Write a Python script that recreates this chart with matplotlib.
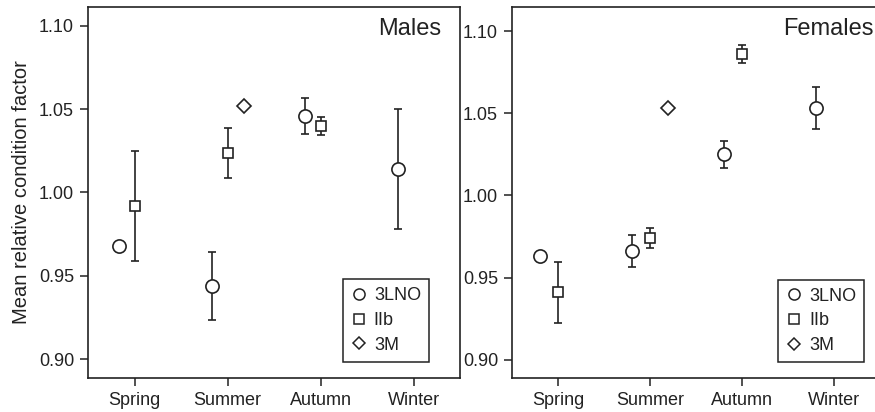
import matplotlib
matplotlib.use("Agg")
import matplotlib.pyplot as plt
from matplotlib.lines import Line2D
import numpy as np

plt.rcParams['font.family'] = ['Liberation Sans', 'DejaVu Sans']

seasons = ["Spring", "Summer", "Autumn", "Winter"]
groups = ["3LNO", "IIb", "3M"]

# Males: mean and error (NaN = absent)
males_3lno = [0.968, 0.944, 1.046, 1.014]
males_3lno_err = [0.0, 0.0205, 0.011, 0.036]
males_iib = [0.992, 1.024, 1.040, np.nan]
males_iib_err = [0.033, 0.015, 0.0053, 0.0]
males_3m = [np.nan, 1.052, np.nan, np.nan]

# Females
females_3lno = [0.963, 0.966, 1.025, 1.053]
females_3lno_err = [0.0, 0.0097, 0.008, 0.0128]
females_iib = [0.941, 0.974, 1.086, np.nan]
females_iib_err = [0.0185, 0.006, 0.0057, 0.0]
females_3m = [np.nan, 1.053, np.nan, np.nan]

yticks = [0.90, 0.95, 1.00, 1.05, 1.10]

col = "#222222"
fig = plt.figure(figsize=(8.75, 4.12), dpi=100)
ax1 = fig.add_axes([88/875, 34/412, 372/875, 371/412])
ax2 = fig.add_axes([512/875, 34/412, 368/875, 371/412])

def draw(ax, l, le, s, se, d, offs, title, title_x, ylim, legend_anchor):
    x = np.arange(1, 5)
    ax.errorbar(x + offs[0], l, yerr=le, fmt='o', ms=9.5, mfc='white', mec=col,
                mew=1.2, ecolor=col, elinewidth=1.2, capsize=2.8, capthick=1.2,
                zorder=3)
    ax.errorbar(x + offs[1], s, yerr=se, fmt='s', ms=7.5, mfc='white', mec=col,
                mew=1.2, ecolor=col, elinewidth=1.2, capsize=2.8, capthick=1.2,
                zorder=3)
    ax.plot(x + offs[2], d, 'D', ms=7, mfc='white', mec=col, mew=1.2,
            linestyle='none', zorder=3)
    ax.set_xlim(0.5, 4.5)
    ax.set_ylim(*ylim)
    ax.set_xticks(x)
    ax.set_xticklabels(seasons, fontsize=13, color=col)
    ax.set_yticks(yticks)
    ax.set_yticklabels([f"{v:.2f}" for v in yticks], fontsize=13, color=col)
    ax.tick_params(direction='out', length=6, width=1.1, color=col, pad=4)
    for sp in ax.spines.values():
        sp.set_linewidth(1.2)
        sp.set_color(col)
    ax.text(title_x, 0.94, title, transform=ax.transAxes, ha='left', va='center',
            fontsize=17, color=col)
    handles = [
        Line2D([], [], marker='o', ms=8, mfc='white', mec=col, mew=1.1, ls='none'),
        Line2D([], [], marker='s', ms=7, mfc='white', mec=col, mew=1.1, ls='none'),
        Line2D([], [], marker='D', ms=6.5, mfc='white', mec=col, mew=1.1, ls='none'),
    ]
    lg = ax.legend(handles, groups, loc='lower right', bbox_to_anchor=legend_anchor,
                   fontsize=13, frameon=True, fancybox=False, framealpha=1,
                   edgecolor=col, handlelength=0.8, handletextpad=0.45,
                   borderpad=0.45, labelspacing=0.42, borderaxespad=0)
    lg.get_frame().set_linewidth(1.1)
    for t in lg.get_texts():
        t.set_color(col)

draw(ax1, males_3lno, males_3lno_err, males_iib, males_iib_err, males_3m,
     (-0.17, 0.0, 0.18), "Males", 0.78, (0.8886, 1.1114), (0.917, 0.044))
draw(ax2, females_3lno, females_3lno_err, females_iib, females_iib_err, females_3m,
     (-0.2, 0.0, 0.2), "Females", 0.736, (0.889, 1.1146), (0.957, 0.043))

ax1.set_ylabel("Mean relative condition factor", fontsize=14.5, color=col, labelpad=6)

fig.savefig("out.png", dpi=100)
